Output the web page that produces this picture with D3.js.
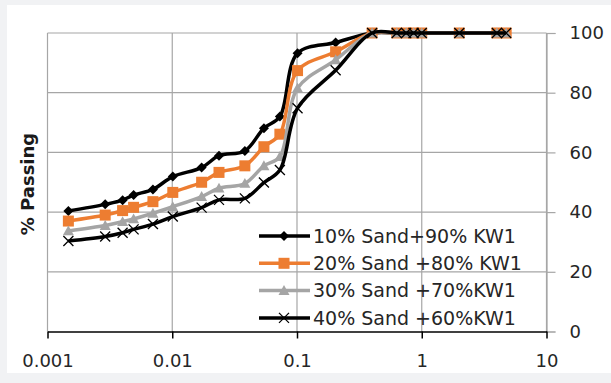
<!DOCTYPE html>
<html>
<head>
<meta charset="utf-8">
<script src="https://cdn.jsdelivr.net/npm/d3@7/dist/d3.min.js"></script>
<style>
  html, body { margin: 0; padding: 0; background: #f1f2f4; }
  svg { display: block; }
</style>
</head>
<body>
<svg id="chart" width="611" height="383"></svg>
<script>
// Particle size (mm) for each reading, shared by all four blends
const sizes = [0.00147, 0.0029, 0.0040, 0.0049, 0.0070, 0.0101, 0.0172, 0.0237, 0.0382,
               0.0543, 0.0729, 0.101, 0.204, 0.40, 0.63, 0.75, 0.86, 1.0, 2.0, 4.0, 4.75];

// Percent passing for each blend
const sand10 = [40.4, 42.6, 44.0, 45.7, 47.6, 51.9, 54.9, 58.9, 60.5, 68.1, 72.0, 93.2, 96.8,
                100, 100, 100, 100, 100, 100, 100, 100];
const sand20 = [37.0, 39.0, 40.5, 41.6, 43.5, 46.6, 50.0, 53.3, 55.5, 61.9, 66.1, 87.4, 93.7,
                100, 100, 100, 100, 100, 100, 100, 100];
const sand30 = [33.7, 35.5, 36.8, 37.7, 39.6, 41.8, 45.2, 48.0, 49.6, 55.5, 58.6, 81.5, 91.0,
                100, 100, 100, 100, 100, 100, 100, 100];
const sand40 = [30.3, 31.8, 33.1, 34.2, 36.0, 38.5, 41.5, 44.1, 44.6, 49.9, 54.1, 74.8, 87.5,
                100, 100, 100, 100, 100, 100, 100, 100];

const seriesNames = ["10% Sand+90% KW1", "20% Sand +80% KW1", "30% Sand +70%KW1", "40% Sand +60%KW1"];
const xTicks = [0.001, 0.01, 0.1, 1, 10];
const xTickLabels = ["0.001", "0.01", "0.1", "1", "10"];
const yTicks = [0, 20, 40, 60, 80, 100];
const yTitle = "% Passing";

const styles = [
  { color: "#000000", marker: "diamond" },
  { color: "#ED7D31", marker: "square" },
  { color: "#A5A5A5", marker: "triangle" },
  { color: "#000000", marker: "cross" }
];
const allSeries = [sand10, sand20, sand30, sand40];

const svg = d3.select("#chart");
const font = "'DejaVu Sans', sans-serif";

// white panel
svg.append("rect").attr("x", 7).attr("y", 5).attr("width", 604).attr("height", 368).attr("fill", "#ffffff");

const x = d3.scaleLog().domain([0.001, 10]).range([47.5, 546.5]);
const y = d3.scaleLinear().domain([0, 100]).range([331.5, 33]);

const grid = svg.append("g").attr("stroke", "#a6a6a6").attr("stroke-width", 1.2).attr("fill", "none");
xTicks.forEach(t => {
  grid.append("line").attr("x1", x(t)).attr("x2", x(t)).attr("y1", y(100)).attr("y2", y(0));
});
yTicks.filter(t => t > 0).forEach(t => {
  grid.append("line").attr("x1", x(0.001)).attr("x2", x(10)).attr("y1", y(t)).attr("y2", y(t));
});

// right value axis (gray) with outward ticks
const yAxis = d3.axisRight(y).tickValues(yTicks).tickSize(9).tickPadding(14).tickFormat(d3.format("d"));
const gy = svg.append("g").attr("transform", `translate(${x(10)},0)`).call(yAxis);
gy.select(".domain").attr("stroke", "#a6a6a6").attr("stroke-width", 1.2);
gy.selectAll(".tick line").attr("stroke", "#a6a6a6").attr("stroke-width", 1.2);
gy.selectAll(".tick text").attr("font-family", font).attr("font-size", 18).attr("fill", "#262626");

// bottom size axis (black)
const xAxis = d3.axisBottom(x).tickValues(xTicks).tickSize(7).tickSizeOuter(0).tickPadding(16)
  .tickFormat((d, i) => xTickLabels[i]);
const gx = svg.append("g").attr("transform", `translate(0,${y(0)})`).call(xAxis);
gx.select(".domain").attr("stroke", "#000").attr("stroke-width", 1.5);
gx.selectAll(".tick line").attr("stroke", "#000").attr("stroke-width", 1.5);
gx.selectAll(".tick text").attr("font-family", font).attr("font-size", 18).attr("fill", "#262626");

// axis title
svg.append("text")
  .attr("transform", `translate(34,184) rotate(-90)`)
  .attr("text-anchor", "middle")
  .attr("font-family", font).attr("font-size", 18).attr("font-weight", "bold")
  .attr("fill", "#1a1a1a")
  .text(yTitle);

function drawMarker(g, kind, cx, cy, color) {
  if (kind === "diamond") {
    const r = 5;
    g.append("path").attr("d", `M${cx},${cy - r}L${cx + r},${cy}L${cx},${cy + r}L${cx - r},${cy}Z`)
      .attr("fill", color);
  } else if (kind === "square") {
    const r = 5.5;
    g.append("rect").attr("x", cx - r).attr("y", cy - r).attr("width", 2 * r).attr("height", 2 * r)
      .attr("fill", color);
  } else if (kind === "triangle") {
    const r = 5.5;
    g.append("path").attr("d", `M${cx},${cy - r}L${cx + r},${cy + r * 0.8}L${cx - r},${cy + r * 0.8}Z`)
      .attr("fill", color);
  } else {
    const r = 5;
    g.append("path").attr("d", `M${cx - r},${cy - r}L${cx + r},${cy + r}M${cx - r},${cy + r}L${cx + r},${cy - r}`)
      .attr("stroke", color).attr("stroke-width", 1.3).attr("fill", "none");
  }
}

const line = d3.line()
  .x(d => x(d[0]))
  .y(d => y(d[1]))
  .curve(d3.curveCatmullRom.alpha(0.5));

allSeries.forEach((vals, i) => {
  const pts = sizes.map((s, j) => [s, vals[j]]);
  const g = svg.append("g");
  g.append("path").datum(pts).attr("d", line)
    .attr("fill", "none").attr("stroke", styles[i].color).attr("stroke-width", 3.5)
    .attr("stroke-linejoin", "round");
  pts.forEach(p => drawMarker(g, styles[i].marker, x(p[0]), y(p[1]), styles[i].color));
});

// legend
const legend = svg.append("g");
seriesNames.forEach((name, i) => {
  const ly = 236 + i * 27.3;
  legend.append("line").attr("x1", 259).attr("x2", 310).attr("y1", ly).attr("y2", ly)
    .attr("stroke", styles[i].color).attr("stroke-width", 3.5);
  drawMarker(legend, styles[i].marker, 284, ly, styles[i].color);
  legend.append("text").attr("x", 313).attr("y", ly).attr("dy", "0.36em")
    .attr("font-family", font).attr("font-size", 19).attr("fill", "#262626")
    .text(name);
});
</script>
</body>
</html>
